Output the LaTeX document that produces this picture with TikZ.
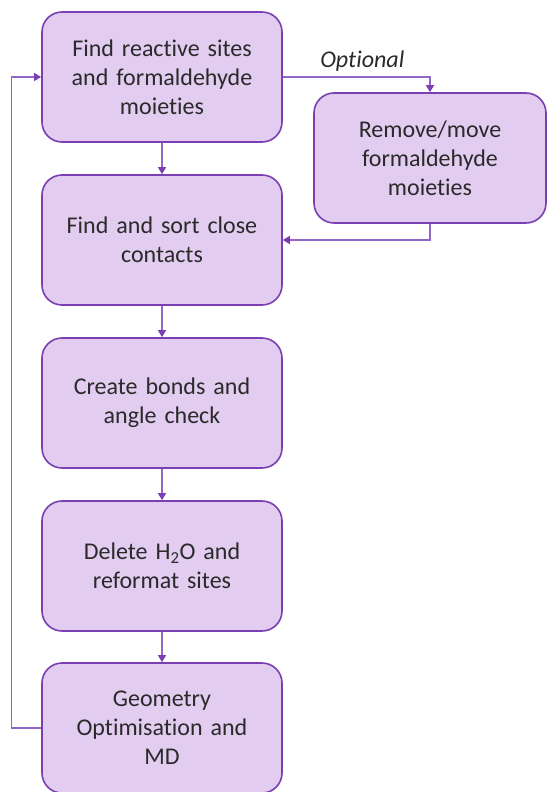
\documentclass[tikz,border=0pt]{standalone}
\usepackage{fontspec}
\setmainfont{Carlito}[Ligatures=NoCommon]
\usetikzlibrary{arrows.meta}

\definecolor{boxfill}{HTML}{E2CCF0}
\definecolor{boxline}{HTML}{7A3FB0}
\definecolor{flowline}{HTML}{9466C8}
\definecolor{textgray}{HTML}{2A2A2A}

\begin{document}
\begin{tikzpicture}[x=1pt, y=-1pt,
    stepbox/.style={rectangle, rounded corners=20pt, draw=boxline, line width=1.6pt,
                    fill=boxfill, minimum width=240pt, minimum height=130pt,
                    text width=230pt, align=center, text=textgray,
                    font=\fontsize{24}{29}\selectfont},
    flow/.style={draw=flowline, line width=1.2pt,
                 -{Triangle[width=8pt,length=7pt,color=boxline]}}]

    \useasboundingbox (0,0) rectangle (546,792);

    % main column
    \node[stepbox] (sites)    at (162,77)  {Find reactive sites\\and formaldehyde\\moieties};
    \node[stepbox] (contacts) at (162,240) {Find and sort close\\contacts};
    \node[stepbox] (bonds)    at (162,403) {Create bonds and\\angle check};
    \node[stepbox] (water)    at (162,566) {Delete H\textsubscript{2}O and\\reformat sites};
    \node[stepbox] (geomopt)  at (162,728) {Geometry\\Optimisation and\\MD};

    % optional branch
    \node[stepbox, minimum width=232pt, text width=220pt] (remove) at (430,158)
        {Remove/move\\formaldehyde\\moieties};

    \draw[flow] (sites) -- (contacts);
    \draw[flow] (contacts) -- (bonds);
    \draw[flow] (bonds) -- (water);
    \draw[flow] (water) -- (geomopt);

    \draw[flow] (sites.east) -| node[pos=0.27, above=2pt, text=textgray,
        font=\fontsize{24}{28}\selectfont\itshape] (opt) {Optional} (remove.north);
    \draw[flow] (remove.south) |- (contacts.east);

    % loop back
    \draw[flow] (geomopt.west) -- ++(-30,0) |- (sites.west);
\end{tikzpicture}
\end{document}
